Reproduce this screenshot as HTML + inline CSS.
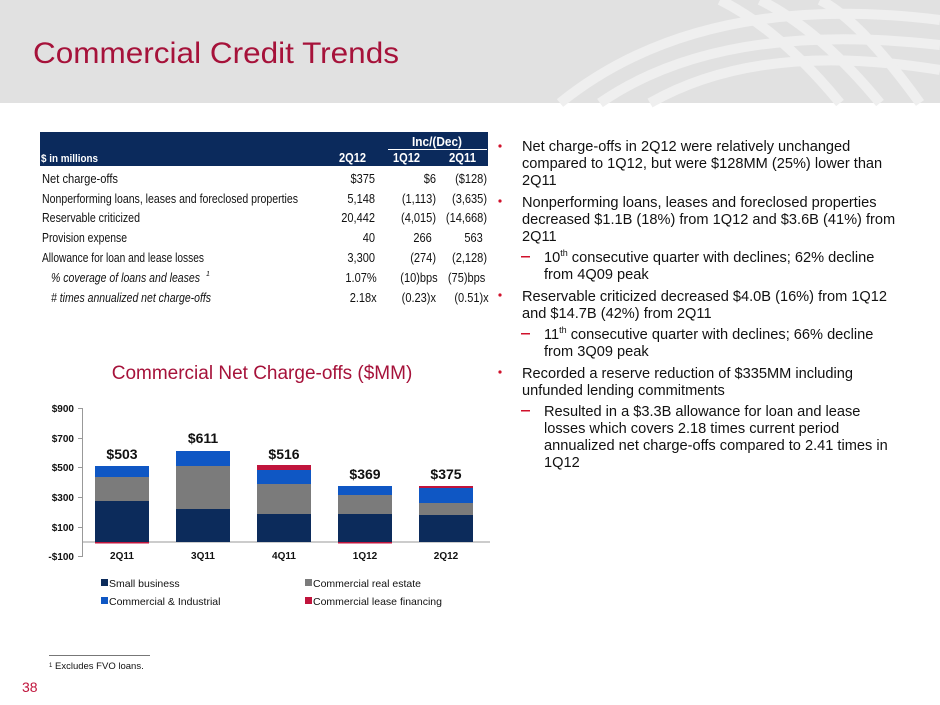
<!DOCTYPE html>
<html><head><meta charset="utf-8"><style>
html,body{margin:0;padding:0;background:#fff;}
svg{display:block;font-family:"Liberation Sans",Arial,sans-serif;}
</style></head><body>
<svg width="940" height="705" viewBox="0 0 940 705" xmlns="http://www.w3.org/2000/svg">
<rect x="0" y="0" width="940" height="103" fill="#e1e1e1"/>
<g fill="none" stroke="#efefef" stroke-width="10">
<path d="M560 103 Q700 -10 940 20"/>
<path d="M600 103 Q720 20 940 45"/>
<path d="M650 103 Q760 40 940 70"/>
<path d="M720 0 Q780 30 840 103"/>
<path d="M760 0 Q820 30 880 103"/>
<path d="M820 0 Q860 20 920 103"/>
</g>
<text x="33" y="63" font-size="30" fill="#a6123a" textLength="366" lengthAdjust="spacingAndGlyphs">Commercial Credit Trends</text>

<!-- table -->
<rect x="40" y="132" width="448" height="34" fill="#0b2a5c"/>
<line x1="388" y1="149.5" x2="487" y2="149.5" stroke="#fff" stroke-width="1"/>
<g fill="#fff" font-weight="bold" font-size="13">
<text x="412" y="146" textLength="50" lengthAdjust="spacingAndGlyphs">Inc/(Dec)</text>
<text x="41" y="162" font-size="11" textLength="57" lengthAdjust="spacingAndGlyphs">$ in millions</text>
<text x="339" y="162" textLength="27" lengthAdjust="spacingAndGlyphs">2Q12</text>
<text x="393" y="162" textLength="27" lengthAdjust="spacingAndGlyphs">1Q12</text>
<text x="449" y="162" textLength="27" lengthAdjust="spacingAndGlyphs">2Q11</text>
</g>
<g font-size="13" fill="#111">
<text x="42" y="183" textLength="76" lengthAdjust="spacingAndGlyphs">Net charge-offs</text>
<text x="42" y="203" textLength="256" lengthAdjust="spacingAndGlyphs">Nonperforming loans, leases and foreclosed properties</text>
<text x="42" y="222" textLength="98" lengthAdjust="spacingAndGlyphs">Reservable criticized</text>
<text x="42" y="242" textLength="85" lengthAdjust="spacingAndGlyphs">Provision expense</text>
<text x="42" y="262" textLength="162" lengthAdjust="spacingAndGlyphs">Allowance for loan and lease losses</text>
<text x="51" y="282" font-style="italic" textLength="149" lengthAdjust="spacingAndGlyphs">% coverage of loans and leases</text>
<text x="206" y="276" font-size="7" font-style="italic">1</text>
<text x="51" y="302" font-style="italic" textLength="160" lengthAdjust="spacingAndGlyphs"># times annualized net charge-offs</text>
<g text-anchor="end" transform="translate(375,0) scale(0.85,1)">
<text x="0" y="183">$375</text><text x="0" y="203">5,148</text><text x="0" y="222">20,442</text><text x="0" y="242">40</text><text x="0" y="262">3,300</text><text x="2" y="282">1.07%</text><text x="2" y="302">2.18x</text>
</g>
<g text-anchor="end" transform="translate(436,0) scale(0.85,1)">
<text x="0" y="183">$6</text><text x="0" y="203">(1,113)</text><text x="0" y="222">(4,015)</text><text x="-5" y="242">266</text><text x="0" y="262">(274)</text><text x="2" y="282">(10)bps</text><text x="0" y="302">(0.23)x</text>
</g>
<g text-anchor="end" transform="translate(487,0) scale(0.85,1)">
<text x="0" y="183">($128)</text><text x="0" y="203">(3,635)</text><text x="0" y="222">(14,668)</text><text x="-5" y="242">563</text><text x="0" y="262">(2,128)</text><text x="-2" y="282">(75)bps</text><text x="2" y="302">(0.51)x</text>
</g>
</g>

<!-- bullets -->
<g font-size="14.6" fill="#111">
<g fill="#d0112b">
<circle cx="500" cy="146" r="1.6"/><circle cx="500" cy="201" r="1.6"/><circle cx="500" cy="295" r="1.6"/><circle cx="500" cy="372" r="1.6"/>
<rect x="521" y="256" width="9" height="1.5"/><rect x="521" y="333" width="9" height="1.5"/><rect x="521" y="410" width="9" height="1.5"/>
</g>
<text x="522" y="151">Net charge-offs in 2Q12 were relatively unchanged</text>
<text x="522" y="168">compared to 1Q12, but were $128MM (25%) lower than</text>
<text x="522" y="185">2Q11</text>
<text x="522" y="207">Nonperforming loans, leases and foreclosed properties</text>
<text x="522" y="224">decreased $1.1B (18%) from 1Q12 and $3.6B (41%) from</text>
<text x="522" y="241">2Q11</text>
<text x="544" y="262">10<tspan font-size="9" dy="-6">th</tspan><tspan dy="6"> consecutive quarter with declines; 62% decline</tspan></text>
<text x="544" y="279">from 4Q09 peak</text>
<text x="522" y="301">Reservable criticized decreased $4.0B (16%) from 1Q12</text>
<text x="522" y="318">and $14.7B (42%) from 2Q11</text>
<text x="544" y="339">11<tspan font-size="9" dy="-6">th</tspan><tspan dy="6"> consecutive quarter with declines; 66% decline</tspan></text>
<text x="544" y="356">from 3Q09 peak</text>
<text x="522" y="378">Recorded a reserve reduction of $335MM including</text>
<text x="522" y="395">unfunded lending commitments</text>
<text x="544" y="416">Resulted in a $3.3B allowance for loan and lease</text>
<text x="544" y="433">losses which covers 2.18 times current period</text>
<text x="544" y="450">annualized net charge-offs compared to 2.41 times in</text>
<text x="544" y="467">1Q12</text>
</g>

<!-- chart -->
<text x="262" y="379" font-size="19" fill="#a6123a" text-anchor="middle">Commercial Net Charge-offs ($MM)</text>
<g stroke="#999" stroke-width="1">
<line x1="82.5" y1="408" x2="82.5" y2="557"/>
<line x1="82" y1="542" x2="490" y2="542"/>
<line x1="78" y1="408.5" x2="82" y2="408.5"/><line x1="78" y1="438.5" x2="82" y2="438.5"/><line x1="78" y1="467.5" x2="82" y2="467.5"/><line x1="78" y1="497.5" x2="82" y2="497.5"/><line x1="78" y1="527.5" x2="82" y2="527.5"/><line x1="78" y1="556.5" x2="82" y2="556.5"/>
</g>
<g font-size="10" font-weight="bold" fill="#111" text-anchor="end">
<text x="74" y="412">$900</text><text x="74" y="442">$700</text><text x="74" y="471">$500</text><text x="74" y="501">$300</text><text x="74" y="531">$100</text><text x="74" y="560">-$100</text>
</g>
<rect x="95" y="501" width="54" height="41" fill="#0c2b5b"/>
<rect x="95" y="477" width="54" height="24" fill="#7b7b7b"/>
<rect x="95" y="466" width="54" height="11" fill="#0f57c4"/>
<rect x="95" y="542" width="54" height="1.5" fill="#c0143c"/>
<rect x="176" y="509" width="54" height="33" fill="#0c2b5b"/>
<rect x="176" y="466" width="54" height="43" fill="#7b7b7b"/>
<rect x="176" y="451" width="54" height="15" fill="#0f57c4"/>
<rect x="257" y="514" width="54" height="28" fill="#0c2b5b"/>
<rect x="257" y="484" width="54" height="30" fill="#7b7b7b"/>
<rect x="257" y="470" width="54" height="14" fill="#0f57c4"/>
<rect x="257" y="465" width="54" height="5" fill="#c0143c"/>
<rect x="338" y="514" width="54" height="28" fill="#0c2b5b"/>
<rect x="338" y="495" width="54" height="19" fill="#7b7b7b"/>
<rect x="338" y="486" width="54" height="9" fill="#0f57c4"/>
<rect x="338" y="542" width="54" height="1.5" fill="#c0143c"/>
<rect x="419" y="515" width="54" height="27" fill="#0c2b5b"/>
<rect x="419" y="503" width="54" height="12" fill="#7b7b7b"/>
<rect x="419" y="488" width="54" height="15" fill="#0f57c4"/>
<rect x="419" y="486" width="54" height="2" fill="#c0143c"/>
<g font-size="14" font-weight="bold" fill="#111" text-anchor="middle">
<text x="122" y="459">$503</text><text x="203" y="443">$611</text><text x="284" y="459">$516</text><text x="365" y="479">$369</text><text x="446" y="479">$375</text>
</g>
<g font-size="10" font-weight="bold" fill="#111" text-anchor="middle">
<text x="122" y="559">2Q11</text><text x="203" y="559">3Q11</text><text x="284" y="559">4Q11</text><text x="365" y="559">1Q12</text><text x="446" y="559">2Q12</text>
</g>
<g font-size="10.5" fill="#111">
<rect x="101" y="579" width="7" height="7" fill="#0c2b5b"/><text x="109" y="587">Small business</text>
<rect x="305" y="579" width="7" height="7" fill="#7b7b7b"/><text x="313" y="587">Commercial real estate</text>
<rect x="101" y="597" width="7" height="7" fill="#0f57c4"/><text x="109" y="605">Commercial &amp; Industrial</text>
<rect x="305" y="597" width="7" height="7" fill="#c0143c"/><text x="313" y="605">Commercial lease financing</text>
</g>

<line x1="49" y1="655.5" x2="150" y2="655.5" stroke="#777" stroke-width="1"/>
<text x="49" y="667" font-size="6" fill="#111">1</text>
<text x="55" y="669" font-size="9.5" fill="#111">Excludes FVO loans.</text>
<text x="22" y="692" font-size="14" fill="#c0143c">38</text>
</svg>
</body></html>
